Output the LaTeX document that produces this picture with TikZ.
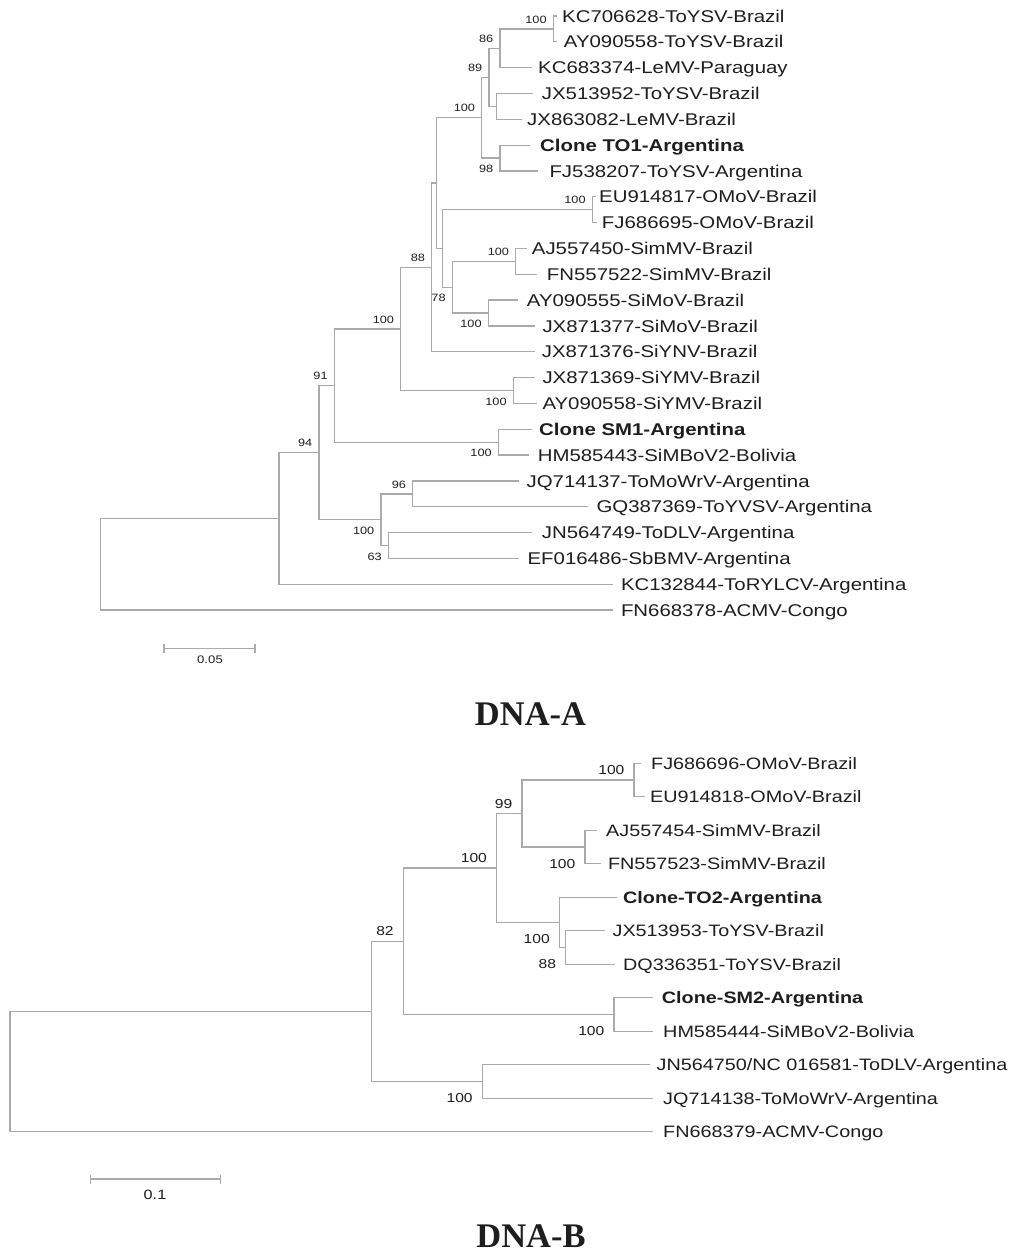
\documentclass[tikz,border=0pt]{standalone}
\usepackage{fontspec}
\usetikzlibrary{calc}
\newfontfamily\labfont[FakeStretch=1.2]{Liberation Sans}
\newfontfamily\titfont{Liberation Serif}
\definecolor{branch}{RGB}{170,170,170}
\definecolor{ink}{RGB}{30,30,30}
% leaf: name, y, branch end x, label x, text
\newcommand\lfA[5]{\coordinate (#1) at (#3,#2); \node[labA,anchor=base west] (#1t) at (#4,#2+6.1) {#5};}
\newcommand\lfB[5]{\coordinate (#1) at (#3,#2); \node[labB,anchor=base west] (#1t) at (#4,#2+5.9) {#5};}
\newcommand\bsAup[2]{\node[bsA,anchor=east] (#1bs) at ($(#1)+(-6.5,-9.5)$) {#2};}
\newcommand\bsAdn[2]{\node[bsA,anchor=east] (#1bs) at ($(#1)+(-6.5,11)$) {#2};}
\newcommand\bsBup[2]{\node[bsB,anchor=east] (#1bs) at ($(#1)+(-9.5,-10)$) {#2};}
\newcommand\bsBdn[2]{\node[bsB,anchor=east] (#1bs) at ($(#1)+(-9.5,16.5)$) {#2};}
\begin{document}
\begin{tikzpicture}[x=1pt,y=-1pt,
  br/.style={draw=branch,line width=1.3pt},
  labA/.style={inner sep=0pt,text=ink,font=\labfont\fontsize{17}{20}\selectfont},
  labB/.style={inner sep=0pt,text=ink,font=\labfont\fontsize{16.5}{20}\selectfont},
  bsA/.style={inner sep=0pt,text=ink,font=\labfont\fontsize{10.6}{12}\selectfont},
  bsB/.style={inner sep=0pt,text=ink,font=\labfont\fontsize{13}{15}\selectfont},
  sbtext/.style={inner sep=0pt,text=ink},
  titlestyle/.style={inner sep=0pt,text=ink,font=\titfont\bfseries\fontsize{34.5}{40}\selectfont}]
\path[fill=white] (0,0) rectangle (1024,1257);

% ================= DNA-A tree =================
\lfA{t0}{16.0}{557}{562}{KC706628-ToYSV-Brazil}
\lfA{t1}{41.8}{557}{563.7}{AY090558-ToYSV-Brazil}
\lfA{t2}{67.7}{531.7}{538}{KC683374-LeMV-Paraguay}
\lfA{t3}{93.5}{533}{541.7}{JX513952-ToYSV-Brazil}
\lfA{t4}{119.3}{521.7}{527}{JX863082-LeMV-Brazil}
\lfA{t5}{145.2}{530}{540}{\textbf{Clone TO1-Argentina}}
\lfA{t6}{171.0}{538.3}{549.3}{FJ538207-ToYSV-Argentina}
\lfA{t7}{196.8}{596}{599}{EU914817-OMoV-Brazil}
\lfA{t8}{222.6}{597}{601.7}{FJ686695-OMoV-Brazil}
\lfA{t9}{248.5}{526.7}{531.7}{AJ557450-SimMV-Brazil}
\lfA{t10}{274.3}{536.7}{546.7}{FN557522-SimMV-Brazil}
\lfA{t11}{300.1}{518.3}{526.7}{AY090555-SiMoV-Brazil}
\lfA{t12}{326.0}{535}{542.3}{JX871377-SiMoV-Brazil}
\lfA{t13}{351.8}{535}{541.7}{JX871376-SiYNV-Brazil}
\lfA{t14}{377.6}{535}{542.3}{JX871369-SiYMV-Brazil}
\lfA{t15}{403.5}{536.7}{542.3}{AY090558-SiYMV-Brazil}
\lfA{t16}{429.3}{531.5}{539}{\textbf{Clone SM1-Argentina}}
\lfA{t17}{455.1}{529}{537.6}{HM585443-SiMBoV2-Bolivia}
\lfA{t18}{480.9}{518.8}{526.4}{JQ714137-ToMoWrV-Argentina}
\lfA{t19}{506.8}{587.6}{596.3}{GQ387369-ToYVSV-Argentina}
\lfA{t20}{532.6}{531.5}{541.7}{JN564749-ToDLV-Argentina}
\lfA{t21}{558.4}{518.8}{527.4}{EF016486-SbBMV-Argentina}
\lfA{t22}{584.3}{613}{620.8}{KC132844-ToRYLCV-Argentina}
\lfA{t23}{610.1}{613}{620.8}{FN668378-ACMV-Congo}

\coordinate (nToY) at (553.3,28.9);
\coordinate (n86) at (500,48.3);
\coordinate (nJX) at (496.7,106.4);
\coordinate (n89) at (489,77.35);
\coordinate (n98) at (500,158.1);
\coordinate (nTO) at (481.7,117.7);
\coordinate (nOMo) at (592.3,209.7);
\coordinate (nSim) at (515.7,261.4);
\coordinate (nSiMo) at (488.3,313.05);
\coordinate (n78) at (452.3,287.2);
\coordinate (nB) at (442.3,248.5);
\coordinate (nA) at (436.7,183.1);
\coordinate (n88) at (431.7,267.5);
\coordinate (nSiY) at (513.3,390.5);
\coordinate (nC) at (400.7,329);
\coordinate (nSM) at (498.4,442.2);
\coordinate (n91) at (334.3,385.6);
\coordinate (n96) at (412.7,493.85);
\coordinate (n63) at (388.5,545.5);
\coordinate (nD) at (381,519.7);
\coordinate (nX) at (319,452.65);
\coordinate (nE) at (279,518.5);
\coordinate (rootA) at (100.3,564.3);

\draw[br] (rootA) |- (nE);  \draw[br] (rootA) |- (t23);
\draw[br] (nE) |- (nX);     \draw[br] (nE) |- (t22);
\draw[br] (nX) |- (n91);    \draw[br] (nX) |- (nD);
\draw[br] (n91) |- (nC);    \draw[br] (n91) |- (nSM);
\draw[br] (nC) |- (n88);    \draw[br] (nC) |- (nSiY);
\draw[br] (n88) |- (nA);    \draw[br] (n88) |- (t13);
\draw[br] (nA) |- (nTO);    \draw[br] (nA) |- (nB);
\draw[br] (nTO) |- (n89);   \draw[br] (nTO) |- (n98);
\draw[br] (n89) |- (n86);   \draw[br] (n89) |- (nJX);
\draw[br] (n86) |- (nToY);  \draw[br] (n86) |- (t2);
\draw[br] (nToY) |- (t0);   \draw[br] (nToY) |- (t1);
\draw[br] (nJX) |- (t3);    \draw[br] (nJX) |- (t4);
\draw[br] (n98) |- (t5);    \draw[br] (n98) |- (t6);
\draw[br] (nB) |- (nOMo);   \draw[br] (nB) |- (n78);
\draw[br] (nOMo) |- (t7);   \draw[br] (nOMo) |- (t8);
\draw[br] (n78) |- (nSim);  \draw[br] (n78) |- (nSiMo);
\draw[br] (nSim) |- (t9);   \draw[br] (nSim) |- (t10);
\draw[br] (nSiMo) |- (t11); \draw[br] (nSiMo) |- (t12);
\draw[br] (nSiY) |- (t14);  \draw[br] (nSiY) |- (t15);
\draw[br] (nSM) |- (t16);   \draw[br] (nSM) |- (t17);
\draw[br] (nD) |- (n96);    \draw[br] (nD) |- (n63);
\draw[br] (n96) |- (t18);   \draw[br] (n96) |- (t19);
\draw[br] (n63) |- (t20);   \draw[br] (n63) |- (t21);

\bsAup{nToY}{100}
\bsAup{n86}{86}
\bsAup{n89}{89}
\bsAup{nTO}{100}
\bsAdn{n98}{98}
\bsAup{nOMo}{100}
\bsAup{nSim}{100}
\bsAup{n88}{88}
\bsAdn{n78}{78}
\bsAdn{nSiMo}{100}
\bsAup{nC}{100}
\bsAup{n91}{91}
\bsAdn{nSiY}{100}
\bsAup{nX}{94}
\bsAdn{nSM}{100}
\bsAup{n96}{96}
\bsAdn{nD}{100}
\bsAdn{n63}{63}

% scale bar A
\coordinate (sbAa) at (164,648.3);
\coordinate (sbAb) at (255,648.3);
\draw[br,line width=1.1pt] (sbAa) -- (sbAb);
\draw[br,line width=1.1pt] ($(sbAa)+(0,-4.3)$) -- ($(sbAa)+(0,4.3)$);
\draw[br,line width=1.1pt] ($(sbAb)+(0,-4.3)$) -- ($(sbAb)+(0,4.3)$);
\node[sbtext,font=\labfont\fontsize{11}{13}\selectfont] (sbAt) at (210,660) {0.05};

\node[titlestyle,anchor=base] (titleA) at (530.5,725.7) {DNA-A};

% ================= DNA-B tree =================
\lfB{b0}{763.3}{641}{651}{FJ686696-OMoV-Brazil}
\lfB{b1}{796.8}{645.3}{650}{EU914818-OMoV-Brazil}
\lfB{b2}{830.3}{597.3}{606}{AJ557454-SimMV-Brazil}
\lfB{b3}{863.8}{600.8}{607.8}{FN557523-SimMV-Brazil}
\lfB{b4}{897.3}{616.6}{622.9}{\textbf{Clone-TO2-Argentina}}
\lfB{b5}{930.8}{605.3}{612.4}{JX513953-ToYSV-Brazil}
\lfB{b6}{964.3}{614.8}{622.9}{DQ336351-ToYSV-Brazil}
\lfB{b7}{997.8}{653.2}{661.7}{\textbf{Clone-SM2-Argentina}}
\lfB{b8}{1031.3}{653}{663}{HM585444-SiMBoV2-Bolivia}
\lfB{b9}{1064.8}{650}{656.4}{JN564750/NC 016581-ToDLV-Argentina}
\lfB{b10}{1098.3}{653.2}{663}{JQ714138-ToMoWrV-Argentina}
\lfB{b11}{1131.8}{653}{663}{FN668379-ACMV-Congo}

\coordinate (bOMo) at (634.1,780.05);
\coordinate (bSim) at (585,847.05);
\coordinate (b99) at (521.9,813.55);
\coordinate (b88) at (565.7,947.55);
\coordinate (bTO) at (559.4,922.4);
\coordinate (bF) at (496.6,868.0);
\coordinate (bSM) at (614,1014.55);
\coordinate (b82) at (403.3,941.3);
\coordinate (bTo) at (482.3,1081.55);
\coordinate (bX) at (371.7,1011.4);
\coordinate (rootB) at (10,1071.6);

\draw[br] (rootB) |- (bX);  \draw[br] (rootB) |- (b11);
\draw[br] (bX) |- (b82);    \draw[br] (bX) |- (bTo);
\draw[br] (b82) |- (bF);    \draw[br] (b82) |- (bSM);
\draw[br] (bF) |- (b99);    \draw[br] (bF) |- (bTO);
\draw[br] (b99) |- (bOMo);  \draw[br] (b99) |- (bSim);
\draw[br] (bOMo) |- (b0);   \draw[br] (bOMo) |- (b1);
\draw[br] (bSim) |- (b2);   \draw[br] (bSim) |- (b3);
\draw[br] (bTO) |- (b4);    \draw[br] (bTO) |- (b88);
\draw[br] (b88) |- (b5);    \draw[br] (b88) |- (b6);
\draw[br] (bSM) |- (b7);    \draw[br] (bSM) |- (b8);
\draw[br] (bTo) |- (b9);    \draw[br] (bTo) |- (b10);

\bsBup{bOMo}{100}
\bsBdn{bSim}{100}
\bsBup{b99}{99}
\bsBdn{b88}{88}
\bsBdn{bTO}{100}
\bsBup{bF}{100}
\bsBdn{bSM}{100}
\bsBup{b82}{82}
\bsBdn{bTo}{100}

% scale bar B
\coordinate (sbBa) at (90.7,1179);
\coordinate (sbBb) at (220.7,1179);
\draw[br,line width=1.3pt] (sbBa) -- (sbBb);
\draw[br,line width=1.3pt] ($(sbBa)+(0,-4.5)$) -- ($(sbBa)+(0,4.5)$);
\draw[br,line width=1.3pt] ($(sbBb)+(0,-4.5)$) -- ($(sbBb)+(0,4.5)$);
\node[sbtext,font=\labfont\fontsize{13.5}{15}\selectfont] (sbBt) at (155,1195) {0.1};

\node[titlestyle,anchor=base] (titleB) at (531,1247) {DNA-B};
\end{tikzpicture}
\end{document}
